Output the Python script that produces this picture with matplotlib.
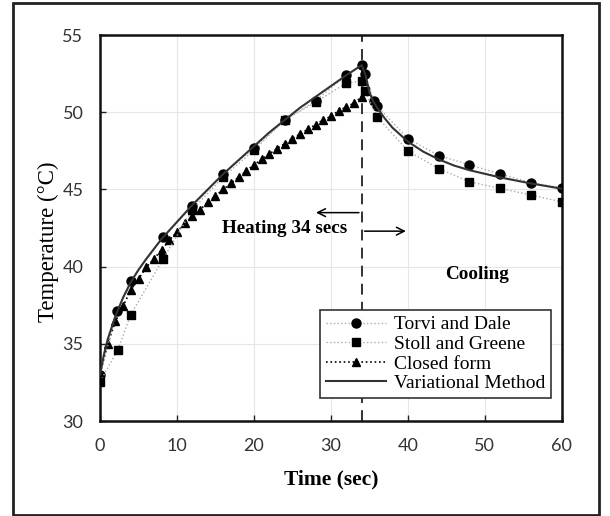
import numpy as np
import matplotlib.pyplot as plt
from matplotlib.patches import Rectangle

# Torvi and Dale (circles)
torvi_t = [0, 2.2, 4, 8.2, 12, 16, 20, 24, 28, 32, 34, 34.4, 35.6, 36, 40, 44, 48, 52, 56, 60]
torvi_T = [33.0, 37.1, 39.1, 41.9, 43.9, 46.0, 47.7, 49.5, 50.75, 52.4, 53.05, 52.5, 50.7, 50.4,
           48.3, 47.2, 46.6, 46.0, 45.45, 45.1]

# Stoll and Greene (squares)
stoll_t = [0, 2.3, 4, 8.2, 12, 16, 20, 24, 28, 32, 34, 34.4, 36, 40, 44, 48, 52, 56, 60]
stoll_T = [32.55, 34.6, 36.9, 40.5, 43.7, 45.8, 47.55, 49.5, 50.65, 51.9, 52.0, 51.4, 49.7,
           47.5, 46.35, 45.5, 45.07, 44.64, 44.2]

# closed form (triangles), heating only
closed_t = list(range(0, 35))
closed_T = [33.07, 35.0, 36.45, 37.45, 38.5, 39.2, 39.95, 40.5, 41.1, 41.7, 42.26, 42.8, 43.25,
            43.7, 44.16, 44.6, 45.0, 45.4, 45.8, 46.2, 46.6, 46.95, 47.3, 47.65, 47.97, 48.3,
            48.6, 48.9, 49.2, 49.5, 49.75, 50.1, 50.35, 50.6, 51.0]

# variational method (solid line)
var_t = [0, 0.5, 1, 2, 3, 4, 5, 6, 8, 10, 12, 14, 16, 18, 20, 22, 24, 26, 28, 30, 32, 34,
         34.5, 35, 35.5, 36, 37, 38, 40, 42, 44, 46, 48, 52, 56, 60]
var_T = [33.0, 34.3, 35.3, 36.8, 38.0, 39.0, 39.8, 40.5, 41.8, 42.9, 44.0, 45.0, 46.0, 46.9,
         47.8, 48.7, 49.5, 50.3, 51.0, 51.7, 52.4, 53.05, 52.4, 51.3, 50.7, 50.3, 49.6, 49.0,
         48.1, 47.45, 46.95, 46.55, 46.25, 45.78, 45.39, 45.05]

t_switch = 34

fig = plt.figure(figsize=(6.1, 5.16), dpi=100)
ax = fig.add_axes([0.164, 0.184, 0.757, 0.748])

serif = 'Liberation Serif'

ax.plot(torvi_t, torvi_T, color='#aaaaaa', ls=':', lw=1, marker='o', ms=6.5,
        mfc='black', mec='black', label='Torvi and Dale', zorder=4)
ax.plot(stoll_t, stoll_T, color='#aaaaaa', ls=':', lw=1, marker='s', ms=5.5,
        mfc='black', mec='black', label='Stoll and Greene', zorder=4)
ax.plot(closed_t, closed_T, color='black', ls=':', lw=1.2, marker='^', ms=6,
        mfc='black', mec='black', label='Closed form', zorder=3)
ax.plot(var_t, var_T, color='#333333', ls='-', lw=1.5, label='Variational Method', zorder=5)

ax.axvline(t_switch, color='#222222', ls=(0, (6, 4)), lw=1.3, zorder=2)

ax.annotate('', xy=(27.7, 43.5), xytext=(t_switch, 43.5),
            arrowprops=dict(arrowstyle='->', color='black', lw=1.1, mutation_scale=14))
ax.annotate('', xy=(40.1, 42.3), xytext=(t_switch, 42.3),
            arrowprops=dict(arrowstyle='->', color='black', lw=1.1, mutation_scale=14))
ax.text(24.0, 42.45, 'Heating 34 secs', ha='center', va='center', fontsize=13.8,
        fontweight='bold', family=serif)
ax.text(49.0, 39.5, 'Cooling', ha='center', va='center', fontsize=13.8,
        fontweight='bold', family=serif)

ax.set_xlim(0, 60)
ax.set_ylim(30, 55)
ax.set_xticks(np.arange(0, 61, 10))
ax.set_yticks(np.arange(30, 56, 5))
ax.grid(True, color='#e6e6e6', lw=0.8)
ax.set_axisbelow(True)
ax.tick_params(direction='in', length=4, width=1, labelsize=13, colors='#222222', pad=12)
for lab in ax.get_xticklabels() + ax.get_yticklabels():
    lab.set_family('Lato')
    lab.set_color('#333333')
for sp in ax.spines.values():
    sp.set_linewidth(1.8)
    sp.set_color('#111111')

ax.set_xlabel('Time (sec)', fontsize=15.5, fontweight='bold', family=serif)
ax.set_ylabel('Temperature (°C)', fontsize=16.5, family=serif)
ax.xaxis.set_label_coords(0.5, -0.125)
ax.yaxis.set_label_coords(-0.088, 0.464)

leg = ax.legend(loc='lower right', bbox_to_anchor=(0.977, 0.06), fancybox=False,
                framealpha=1, edgecolor='#333333', prop={'family': serif, 'size': 14},
                handlelength=3.1, handletextpad=0.4, borderpad=0.3, labelspacing=0.1,
                borderaxespad=0)
leg.get_frame().set_linewidth(1.2)

fig.patches.append(Rectangle((13 / 610, 1 / 516), 586 / 610, 512 / 516, transform=fig.transFigure,
                             fill=False, edgecolor='#222222', lw=2))

fig.savefig('out.png', dpi=100)
